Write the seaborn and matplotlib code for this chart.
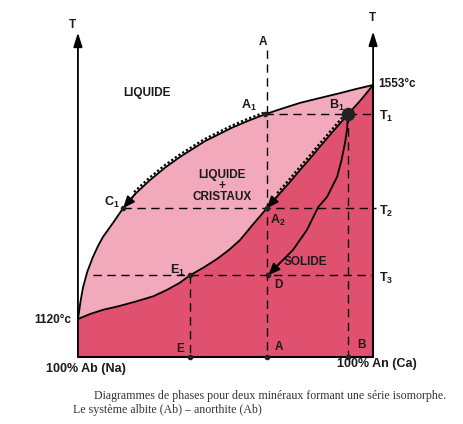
import matplotlib
matplotlib.use("Agg")
import matplotlib.pyplot as plt
import matplotlib.transforms as mtransforms
import seaborn as sns
import pandas as pd

# composition: % anorthite (0 = 100% Ab, 100 = 100% An), temperature in °C
T_MIN, T_MAX = 1120, 1553
T_BOTTOM = 1050

liquidus_x = [0, 0.3, 0.8, 1.7, 3.2, 5.1, 6.8, 8.5, 11.9, 15.3, 19.5, 24.4, 29.5, 34.6, 43.0,
              52.2, 57.8, 63.5, 69.5, 75.3, 82.0, 88.8, 94.5, 100]
liquidus_t = [1120, 1130, 1150, 1178, 1208, 1235, 1255, 1272, 1298, 1325, 1352, 1377, 1400, 1420, 1449,
              1474, 1487, 1499, 1510, 1520, 1529, 1538, 1546, 1553]

solidus_x = [0, 4.0, 8.5, 14.0, 20.0, 25.5, 30.2, 34.5, 38.0, 42.5, 47.1, 51.2, 54.9, 59.3, 64.0,
             68.0, 71.9, 75.3, 78.8, 82.0, 86.4, 91.5, 95.8, 100]
solidus_t = [1120, 1129, 1137, 1144, 1153, 1162, 1174, 1187, 1201, 1215, 1231, 1248, 1266, 1295, 1325,
             1350, 1374, 1396, 1418, 1439, 1467, 1499, 1525, 1553]

# path of the crystal composition from B1 down to D
crystal_x = [91.5, 91.2, 90.5, 89.3, 87.8, 84.4, 81.4, 77.6, 72.9, 68.5, 66.3, 64.5]
crystal_t = [1499, 1472, 1446, 1414, 1383, 1346, 1327, 1285, 1248, 1224, 1211, 1201]

T1, T2, T3 = 1499, 1325, 1201
A1 = (63.5, T1)
B1 = (91.5, T1)
C1 = (15.3, T2)
A2 = (64.0, T2)
E1 = (38.0, T3)
D = (64.5, T3)
x_A, x_B, x_E = 64.2, 91.5, 38.0

LIGHT = "#F3A9BC"
DEEP = "#E0516F"

sns.set_theme(style="white")
plt.rcParams["font.family"] = ["Liberation Sans", "DejaVu Sans"]
plt.rcParams["mathtext.fontset"] = "custom"
plt.rcParams["mathtext.rm"] = "Liberation Sans:bold"
plt.rcParams["mathtext.it"] = "Liberation Sans:bold"
plt.rcParams["mathtext.bf"] = "Liberation Sans:bold"

fig = plt.figure(figsize=(4.64, 4.24), dpi=100)
ax = fig.add_axes([0, 0, 1, 1])
ax.set_xlim(-26.4, 130.8)
ax.set_ylim(925.7, 1710.3)
ax.axis("off")

liq = pd.DataFrame({"x": liquidus_x, "temp": liquidus_t})
sol = pd.DataFrame({"x": solidus_x, "temp": solidus_t})
cry = pd.DataFrame({"x": crystal_x, "temp": crystal_t})

# coloured fields
ax.fill(liquidus_x + solidus_x[::-1], liquidus_t + solidus_t[::-1],
        color=LIGHT, lw=0, zorder=1)
ax.fill(solidus_x + [100, 0], solidus_t + [T_BOTTOM, T_BOTTOM],
        color=DEEP, lw=0, zorder=1)

# liquidus / solidus curves
sns.lineplot(data=liq, x="x", y="temp", sort=False, color="black", lw=1.3, ax=ax, zorder=4)
sns.lineplot(data=sol, x="x", y="temp", sort=False, color="black", lw=1.3, ax=ax, zorder=4)

# dotted paths hugging the curves (slightly to the upper left)
shift = mtransforms.offset_copy(ax.transData, fig=fig, x=-1.5, y=1.5, units="dots")
seg_l = liq[(liq.x >= C1[0] + 1) & (liq.x <= A1[0])]
ax.plot(seg_l.x, seg_l.temp, color="black", lw=1.6, ls=(0, (1, 1)), transform=shift, zorder=5)
seg_s = sol[(sol.x >= A2[0] + 1) & (sol.x <= B1[0])]
ax.plot(seg_s.x, seg_s.temp, color="black", lw=1.6, ls=(0, (1, 1)), transform=shift, zorder=5)

# crystal path B1 -> D
sns.lineplot(data=cry, x="x", y="temp", sort=False, color="black", lw=1.3, ax=ax, zorder=4)

arrow = dict(arrowstyle="-|>,head_length=0.6,head_width=0.25", color="black", lw=1.2,
             shrinkA=0, shrinkB=0)
ax.annotate("", xy=C1, xytext=(liquidus_x[10], liquidus_t[10]), arrowprops=arrow, zorder=6)
ax.annotate("", xy=A2, xytext=(solidus_x[15], solidus_t[15]), arrowprops=arrow, zorder=6)
ax.annotate("", xy=D, xytext=(crystal_x[-3], crystal_t[-3]), arrowprops=arrow, zorder=6)

# dashed guide lines
dash = dict(color="black", lw=1.0, ls=(0, (6, 4)), zorder=3)
ax.plot([A1[0], 100], [T1, T1], **dash)
ax.plot([C1[0], 101], [T2, T2], **dash)
ax.plot([5.0, 100], [T3, T3], **dash)
ax.plot([x_A, x_A], [1618, T_BOTTOM], **dash)
ax.plot([x_E, x_E], [T3, T_BOTTOM], **dash)
ax.plot([x_B, x_B], [T1, T_BOTTOM], **dash)

# axes frame: two temperature arrows and the composition base
ax.plot([0, 100], [T_BOTTOM, T_BOTTOM], color="black", lw=1.5, zorder=4)
ax.plot([100, 100], [T_BOTTOM, T_MAX], color="black", lw=1.5, zorder=4)
ax.annotate("", xy=(0, 1650), xytext=(0, T_BOTTOM),
            arrowprops=dict(arrowstyle="-|>,head_length=0.7,head_width=0.22",
                            color="black", lw=1.3, shrinkA=0, shrinkB=0), zorder=4)
ax.annotate("", xy=(100, 1652), xytext=(100, T_MAX),
            arrowprops=dict(arrowstyle="-|>,head_length=0.7,head_width=0.22",
                            color="black", lw=1.3, shrinkA=0, shrinkB=0), zorder=4)

# points
pts = [A1, A2, C1, E1, D, (x_E, T_BOTTOM), (x_A, T_BOTTOM), (x_B, T_BOTTOM)]
ax.scatter([p[0] for p in pts], [p[1] for p in pts], s=9, color="#222222", zorder=7)
ax.scatter([B1[0]], [B1[1]], s=75, color="#222222", zorder=7)

# labels
bold = dict(fontsize=8.5, fontweight="bold", color="#1a1a1a")
ax.text(23.4, 1538, "LIQUIDE", ha="center", va="center", **bold)
ax.text(48.8, 1366, "LIQUIDE\n+\nCRISTAUX", ha="center", va="center", linespacing=0.85, **bold)
ax.text(77.0, 1225, "SOLIDE", ha="center", va="center", **bold)
ax.text(66.5, 1183, "D", ha="left", va="center", **bold)
ax.text(66.5, 1068, "A", ha="left", va="center", **bold)
ax.text(94.5, 1072, "B", ha="left", va="center", **bold)
ax.text(35.8, 1064, "E", ha="right", va="center", **bold)

sub = dict(fontsize=9, color="#1a1a1a")
ax.text(33.9, 1210, "$E_1$", ha="center", va="center", **sub)
ax.text(65.0, 1302, "$A_2$", ha="left", va="center", **sub)
ax.text(58.0, 1515, "$A_1$", ha="center", va="center", **sub)
ax.text(87.6, 1515, "$B_1$", ha="center", va="center", **sub)
ax.text(11.5, 1336, "$C_1$", ha="center", va="center", **sub)
ax.text(102.0, T1 - 4, "$T_1$", ha="left", va="center", **sub)
ax.text(102.0, T2 - 6, "$T_2$", ha="left", va="center", **sub)
ax.text(102.0, T3 - 6, "$T_3$", ha="left", va="center", **sub)
ax.text(-1.7, 1664, "T", ha="center", va="center", **bold)
ax.text(99.7, 1677, "T", ha="center", va="center", **bold)
ax.text(62.7, 1633, "A", ha="center", va="center", **bold)

ax.text(101.7, 1555, "1553°c", ha="left", va="center", **bold)
ax.text(-2.2, 1118, "1120°c", ha="right", va="center", **bold)
ax.text(2.7, 1027, "100% Ab (Na)", ha="center", va="center", fontsize=9, fontweight="bold", color="#1a1a1a")
ax.text(101.4, 1036, "100% An (Ca)", ha="center", va="center", fontsize=9, fontweight="bold", color="#1a1a1a")

serif = dict(family="Liberation Serif", fontsize=8.6, color="#333333")
fig.text(0.582, 0.066, "Diagrammes de phases pour deux minéraux formant une série isomorphe.",
         ha="center", va="center", **serif)
fig.text(0.157, 0.033, "Le système albite (Ab) – anorthite (Ab)", ha="left", va="center", **serif)

fig.savefig("out.png", dpi=100)
